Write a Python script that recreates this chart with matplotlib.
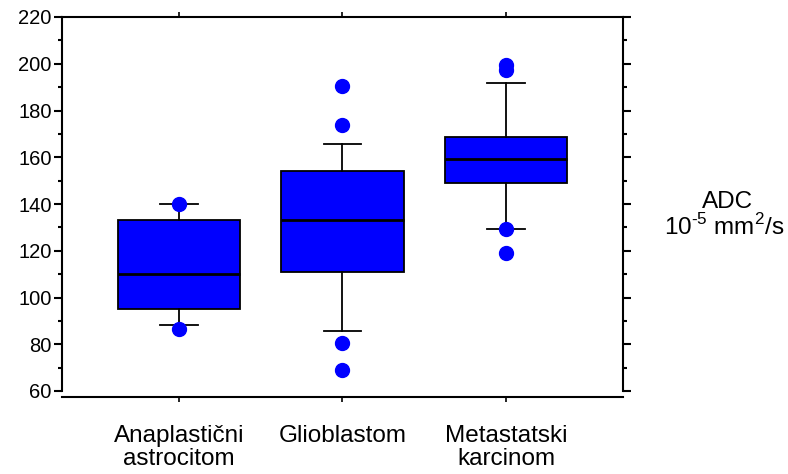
import matplotlib
matplotlib.use("Agg")
import matplotlib.pyplot as plt
from matplotlib.ticker import MultipleLocator

plt.rcParams['font.family'] = ['Liberation Sans', 'DejaVu Sans']
plt.rcParams['mathtext.fontset'] = 'custom'
plt.rcParams['mathtext.rm'] = 'Liberation Sans'
plt.rcParams['axes.unicode_minus'] = False

# box statistics (ADC, 10^-5 mm^2/s)
groups = ["Anaplastični\nastrocitom", "Glioblastom", "Metastatski\nkarcinom"]
q1 = [95.0, 110.8, 149.1]
median = [110.0, 133.2, 159.1]
q3 = [133.2, 154.1, 168.8]
whis_lo = [88.2, 85.7, 129.2]
whis_hi = [139.9, 165.5, 191.6]
outliers = [[140.0, 86.4],
             [190.6, 173.9, 80.7, 69.1],
             [199.5, 197.3, 129.2, 119.2]]

stats = []
for i, name in enumerate(groups):
    stats.append(dict(label=name, med=median[i], q1=q1[i], q3=q3[i],
                      whislo=whis_lo[i], whishi=whis_hi[i], fliers=outliers[i]))

fig = plt.figure(figsize=(7.88, 4.74), dpi=100)
ax = fig.add_axes([62/788, 1-391/474, (623-62)/788, (391-17)/474])

ax.bxp(stats, positions=[1, 2, 3], widths=0.75, capwidths=0.23, patch_artist=True,
       boxprops=dict(facecolor='#0000ff', edgecolor='black', linewidth=1.3),
       medianprops=dict(color='black', linewidth=2),
       whiskerprops=dict(color='black', linewidth=1.3),
       capprops=dict(color='black', linewidth=1.3),
       flierprops=dict(marker='o', markerfacecolor='#0000ff', markeredgecolor='#0000ff',
                       markersize=10, linestyle='none'))

ax.set_xlim(0.284, 3.716)
ax.set_ylim(60, 220)
ax.yaxis.set_major_locator(MultipleLocator(20))
ax.yaxis.set_minor_locator(MultipleLocator(10))

for s in ax.spines.values():
    s.set_linewidth(1.5)
ax.spines['bottom'].set_position(('outward', 4))

ax.tick_params(axis='y', which='both', left=True, right=True, direction='out',
               labelright=False, width=1.5, labelsize=14.5, pad=2)
ax.tick_params(axis='y', which='major', length=5.5)
ax.tick_params(axis='y', which='minor', length=3)
ax.tick_params(axis='x', which='both', top=True, bottom=True, direction='out',
               length=3.5, width=1.2, labelsize=17.5, pad=17)
for lab in ax.get_xticklabels():
    lab.set_linespacing(1.05)

fig.text(728/788, 1-202/474, "ADC", ha='center', va='center', fontsize=17.5)
fig.text(724/788, 1-227/474, "10$^{\\mathregular{\u20105}}$ mm$^{\\mathregular{2}}$/s",
         ha='center', va='center', fontsize=17.5)

fig.savefig("out.png", dpi=100)
